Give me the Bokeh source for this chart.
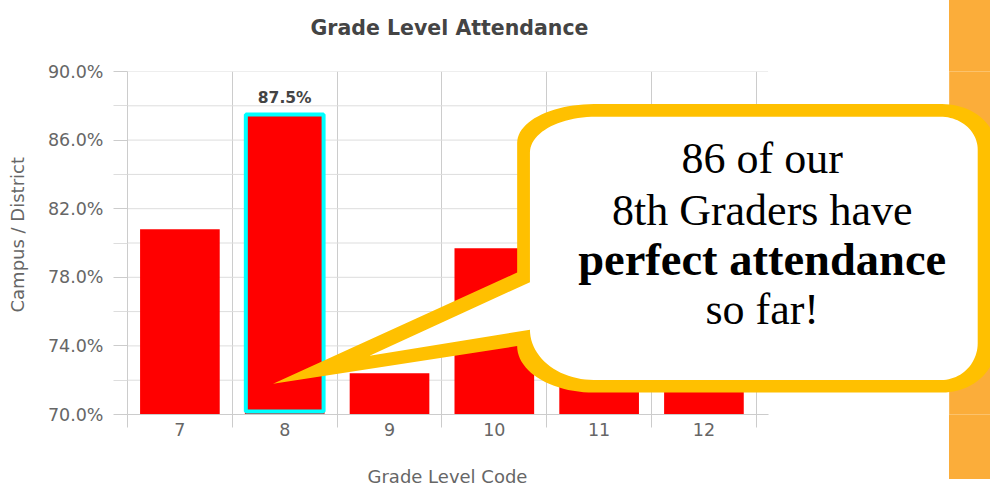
from bokeh.plotting import figure
from bokeh.models import FixedTicker, PrintfTickFormatter, ColumnDataSource, Range1d, Title
from bokeh.embed import file_html
from bokeh.resources import INLINE
from bokeh.core.properties import value
import numpy as np

# ---------------- data ----------------
grades = [7, 8, 9, 10, 11, 12]
attendance = [80.8, 87.5, 72.4, 79.7, 78.2, 76.9]
highlight_grade = 8
y_ticks = [70, 74, 78, 82, 86, 90]
y_minor = [72, 76, 80, 84, 88]
title_text = "Grade Level Attendance"
x_title = "Grade Level Code"
y_title = "Campus / District"
callout_lines = ["86 of our", "8th Graders have", "perfect attendance", "so far!"]
callout_bold = [False, False, True, False]

# ---------------- geometry ----------------
W, H = 990, 485
SX, SY = W / 1006, H / 501            # reference-layout -> canvas scale
FLc, FRc, FTc, FBc = 127, W, 71, 414   # frame edges on the canvas
CAT0 = 6.5
CAT_PX = (768 - 129) * SX / 6          # px per category
Y0, Y1 = 70, 90
PX_Y = (FBc - FTc) / (Y1 - Y0)


def xd(rx):   # reference-layout x (px) -> data
    return CAT0 + (rx * SX - FLc) / CAT_PX


def yd(ry):   # reference-layout y (px) -> data
    return Y0 + (FBc - ry * SY) / PX_Y


x_end = CAT0 + (FRc - FLc) / CAT_PX
chart_right = xd(780)

p = figure(width=W, height=H, x_range=Range1d(CAT0, x_end), y_range=Range1d(Y0, Y1),
           title=None, output_backend="svg", toolbar_location=None,
           min_border_left=FLc, min_border_right=0,
           min_border_top=FTc, min_border_bottom=H - FBc)
p.outline_line_color = None
p.border_fill_color = None
p.background_fill_color = "#ffffff"
strip_x = round(964 * SX)
strip_h = round(495 * SY)
p.styles = {
    "background-image": f"linear-gradient(to right, #ffffff 0px, #ffffff {strip_x}px, #FBAD3A {strip_x}px, #FBAD3A 100%)",
    "background-size": f"100% {strip_h}px",
    "background-repeat": "no-repeat",
    "background-color": "#ffffff",
}

FONT = "DejaVu Sans"
GRAY = "#666666"

# title (with a spacer panel between title and frame)
p.add_layout(Title(text=" ", text_font_size="1px", standoff=27), "above")
p.add_layout(Title(text=title_text, text_font=FONT, text_font_size="20.5px",
                   text_font_style="bold", text_color="#444444", align="left",
                   offset=round(315 * SX) - FLc, standoff=4), "above")

# x axis
xa = p.xaxis[0]
xa.ticker = FixedTicker(ticks=grades, minor_ticks=[g - 0.5 for g in grades] + [grades[-1] + 0.5])
xa.bounds = (CAT0, chart_right)
xa.axis_line_color = "#cccccc"
xa.major_tick_in = 0
xa.major_tick_out = 0
xa.minor_tick_in = 0
xa.minor_tick_out = 13
xa.minor_tick_line_color = "#cccccc"
xa.major_label_standoff = -5
xa.major_label_text_font = FONT
xa.major_label_text_font_size = "17.5px"
xa.major_label_text_color = GRAY
xa.axis_label = None

# x axis title placed below the axis, centred on the chart
p.add_layout(Title(text=" ", text_font_size="1px", standoff=28), "below")
p.add_layout(Title(text=x_title, text_font=FONT, text_font_size="18px",
                   text_font_style="normal", text_color=GRAY, align="left",
                   offset=round(373 * SX) - FLc, standoff=-12), "below")

# y axis
ya = p.yaxis[0]
ya.ticker = FixedTicker(ticks=y_ticks, minor_ticks=y_minor)
ya.formatter = PrintfTickFormatter(format="%.1f%%")
ya.axis_line_color = "#cccccc"
ya.major_tick_in = 0
ya.major_tick_out = 14
ya.minor_tick_in = 0
ya.minor_tick_out = 14
ya.major_tick_line_color = "#cccccc"
ya.minor_tick_line_color = "#dddddd"
ya.major_label_standoff = 10
ya.major_label_text_font = FONT
ya.major_label_text_font_size = "17.5px"
ya.major_label_text_color = GRAY
ya.axis_label = None

# y axis title, left of the tick labels, placed as in the reference
p.add_layout(Title(text=" ", text_font_size="1px", standoff=14), "left")
p.add_layout(Title(text=y_title, text_font=FONT, text_font_size="18px",
                   text_font_style="normal", text_color=GRAY, align="left",
                   vertical_align="bottom",
                   offset=FBc - round(322 * SY), standoff=0), "left")

# grids: vertical lines at category boundaries, horizontal lines across the chart only
p.xgrid.ticker = xa.ticker
p.xgrid.grid_line_color = None
p.xgrid.minor_grid_line_color = "#cccccc"
p.ygrid.grid_line_color = None
p.ygrid.minor_grid_line_color = None

all_y = sorted(y_ticks + y_minor)
p.segment(x0=[CAT0] * len(all_y), x1=[chart_right] * len(all_y), y0=all_y, y1=all_y,
          line_color="#dddddd", line_width=1)

# orange strip (frame part)
p.quad(left=[xd(964)], right=[x_end + 1], bottom=[Y0 - 1], top=[Y1 + 1],
       fill_color="#FBAD3A", line_color=None)

# bars
src = ColumnDataSource(dict(x=grades, top=attendance))
p.vbar(x="x", top="top", bottom=Y0, width=0.76, source=src,
       fill_color="#ff0000", line_color=None)
hi = grades.index(highlight_grade)
p.vbar(x=[highlight_grade], top=[attendance[hi]], bottom=Y0 + 3 / PX_Y, width=0.742,
       fill_color=None, line_color="#00ffff", line_width=4)
p.text(x=[highlight_grade], y=[attendance[hi]], text=[f"{attendance[hi]:.1f}%"],
       y_offset=-16, text_align="center", text_baseline="alphabetic",
       text_font=value(FONT), text_font_style="bold", text_font_size="15.5px",
       text_color="#444444")


# ---------------- callout ----------------
def arc(cx, cy, rx, ry, a0, a1, n=24):
    t = np.linspace(a0, a1, n)
    return list(cx + rx * np.cos(t)), list(cy + ry * np.sin(t))


def callout(box, radii, tail):
    L, T, R, B = box
    (tlx, tly), (trx, try_), (brx, bry), (blx, bly) = radii
    up, tip, low = tail
    xs, ys = [up[0]], [up[1]]
    ax, ay = arc(L + tlx, T + tly, tlx, tly, np.pi, 1.5 * np.pi); xs += ax; ys += ay
    ax, ay = arc(R - trx, T + try_, trx, try_, 1.5 * np.pi, 2 * np.pi); xs += ax; ys += ay
    ax, ay = arc(R - brx, B - bry, brx, bry, 0, 0.5 * np.pi); xs += ax; ys += ay
    ax, ay = arc(L + blx, low[1], blx, B - low[1], 0.5 * np.pi, np.pi); xs += ax; ys += ay
    xs += [tip[0], up[0]]
    ys += [tip[1], up[1]]
    return [xd(v) for v in xs], [yd(v) for v in ys]


ox, oy = callout((525, 107, 1012, 405), [(78, 40), (55, 46), (55, 50), (78, 48)],
                 [(525, 281), (277, 396), (525, 357)])
ix, iy = callout((538, 120, 993, 392), [(67, 37), (38, 34), (37, 38), (65, 52)],
                 [(538, 291), (375, 367), (538, 340)])
p.patch(ox, oy, fill_color="#FFC000", line_color=None)
p.patch(ix, iy, fill_color="#ffffff", line_color=None)

baselines = [179, 232, 283, 335]
for line, bold, b in zip(callout_lines, callout_bold, baselines):
    p.text(x=[xd(774)], y=[yd(b)], text=[line], text_align="center",
           text_baseline="alphabetic", y_offset=-15,
           text_font=value("Liberation Serif"),
           text_font_size="46.5px" if bold else "44px",
           text_font_style="bold" if bold else "normal",
           text_color="#000000")

open("out.html", "w").write(file_html(p, INLINE))
